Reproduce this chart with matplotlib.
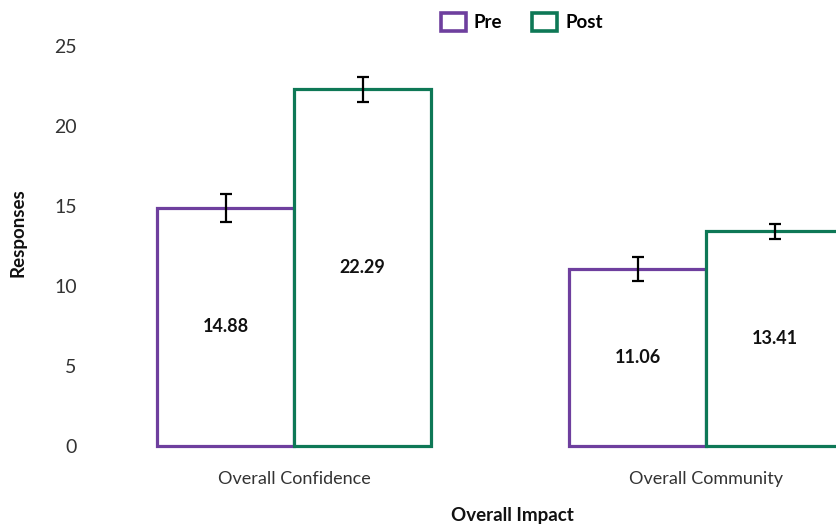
import matplotlib
matplotlib.use("Agg")
import matplotlib.pyplot as plt
from matplotlib.patches import Patch
import numpy as np

plt.rcParams['font.family'] = ['Lato', 'DejaVu Sans']

categories = ["Overall Confidence", "Overall Community"]
series = ["Pre", "Post"]
pre_values = [14.88, 11.06]
post_values = [22.29, 13.41]
pre_err = [0.88, 0.75]
post_err = [0.78, 0.47]
y_ticks = [0, 5, 10, 15, 20, 25]

colors = {"Pre": "#6E3F9E", "Post": "#0E7856"}

W, H = 836, 527
fig = plt.figure(figsize=(W / 100, H / 100), dpi=100)
ax_left, ax_right, ax_bottom, ax_top = 85, 836, 446, 46
ax = fig.add_axes([ax_left / W, 1 - ax_bottom / H, (ax_right - ax_left) / W, (ax_bottom - ax_top) / H])

x = np.arange(len(categories))
px_per_unit = 412.0
c0 = 294.0
ax.set_xlim((ax_left - c0) / px_per_unit, (ax_right - c0) / px_per_unit)
ax.set_ylim(0, 25)

bw = 137.0 / px_per_unit
lw = 2.3
for vals, errs, name, off in [(pre_values, pre_err, "Pre", -bw / 2), (post_values, post_err, "Post", bw / 2)]:
    ax.bar(x + off, vals, width=bw, facecolor="white", edgecolor=colors[name],
           linewidth=lw, clip_on=False, zorder=2)
    ax.errorbar(x + off, vals, yerr=errs, fmt="none", ecolor="black", elinewidth=1.6,
                capsize=4, capthick=1.6, zorder=3)
    for xi, v in zip(x + off, vals):
        ax.text(xi, v / 2, f"{v:.2f}", ha="center", va="center", fontsize=13,
                fontweight="bold", color="#111111", zorder=4)

for s in ax.spines.values():
    s.set_visible(False)
ax.set_yticks(y_ticks)
ax.set_yticklabels([str(t) for t in y_ticks], fontsize=14, color="#333333")
ax.tick_params(axis="y", length=0, pad=6)
ax.set_xticks(x)
ax.set_xticklabels(categories, fontsize=13, color="#333333")
ax.tick_params(axis="x", length=0, pad=18)

fig.text(512 / W, 1 - 515 / H, "Overall Impact", ha="center", va="center",
         fontsize=13.5, fontweight="bold", color="#111111")
fig.text(18 / W, 1 - 233 / H, "Responses", ha="center", va="center", rotation=90,
         fontsize=13.5, fontweight="bold", color="#111111")

handles = [Patch(facecolor="white", edgecolor=colors[s], linewidth=2.6, label=s) for s in series]
leg = fig.legend(handles=handles, loc="center", bbox_to_anchor=(522 / W, 1 - 22 / H), ncol=2,
                 frameon=False, handlelength=1.3, handleheight=1.1,
                 handletextpad=0.45, columnspacing=1.6, prop={"weight": "bold", "size": 13.5})

fig.savefig("out.png", dpi=100)
